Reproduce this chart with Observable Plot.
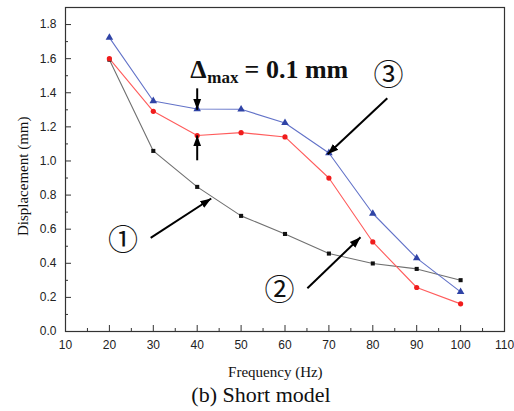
<!DOCTYPE html>
<html><head><meta charset="utf-8">
<script src="https://cdn.jsdelivr.net/npm/d3@7"></script>
<script src="https://cdn.jsdelivr.net/npm/@observablehq/plot@0.6"></script>
<style>
body{margin:0;background:#fff}
#cap{font-family:"Liberation Serif",serif;font-size:22px;line-height:26px;text-align:center;width:514px;padding-left:8px;box-sizing:border-box;margin-top:2px;color:#111}
</style>
</head><body><div id="chart"></div><div id="cap">(b) Short model</div>
<script>
const freq = [20, 30, 40, 50, 60, 70, 80, 90, 100];
const series1 = [1.594, 1.059, 0.848, 0.678, 0.572, 0.457, 0.399, 0.367, 0.301];
const series2 = [1.600, 1.291, 1.149, 1.166, 1.141, 0.900, 0.525, 0.258, 0.162];
const series3 = [1.723, 1.352, 1.305, 1.303, 1.223, 1.047, 0.692, 0.430, 0.232];
const xTicks = [10, 20, 30, 40, 50, 60, 70, 80, 90, 100, 110];
const xMinor = [15, 25, 35, 45, 55, 65, 75, 85, 95, 105];
const yTicks = [0, 0.2, 0.4, 0.6, 0.8, 1.0, 1.2, 1.4, 1.6, 1.8];
const yMinor = [0.1, 0.3, 0.5, 0.7, 0.9, 1.1, 1.3, 1.5, 1.7];
const xLabel = "Frequency (Hz)";
const yLabel = "Displacement (mm)";
// annotation arrows (data coordinates)
const arrowX1 = [29.4, 65.1, 83.3, 40, 40];
const arrowY1 = [0.549, 0.254, 1.368, 1.426, 1.004];
const arrowX2 = [43.2, 77.2, 69.7, 40, 40];
const arrowY2 = [0.780, 0.553, 1.039, 1.300, 1.150];
const circText = ["①", "②", "③"];
const circX = [23.1, 58.75, 83.6];
const circY = [0.532, 0.242, 1.50];

const rows = (ys, name) => freq.map((f, i) => ({f, v: ys[i], s: name}));
const d1 = rows(series1, "1"), d2 = rows(series2, "2"), d3s = rows(series3, "3");
const arrows = arrowX1.map((x, i) => ({x1: x, y1: arrowY1[i], x2: arrowX2[i], y2: arrowY2[i]}));
const circ = circText.map((t, i) => ({t, x: circX[i], y: circY[i]}));

function filledArrow(color) {
  return d3.create("svg:marker")
    .attr("viewBox", "-11 -5.5 11 11")
    .attr("markerWidth", 11).attr("markerHeight", 11)
    .attr("markerUnits", "userSpaceOnUse")
    .attr("orient", "auto")
    .attr("fill", "#000").attr("stroke", "none")
    .call(m => m.append("path").attr("d", "M-11,-4L0,0L-11,4Z"))
    .node();
}

const serif = "Liberation Serif";
const chart = Plot.plot({
  width: 514, height: 380,
  marginTop: 7, marginLeft: 65, marginRight: 10, marginBottom: 49,
  x: {domain: [10, 110]},
  y: {domain: [0, 1.9]},
  style: {fontFamily: "Liberation Sans, Arial, sans-serif", fontSize: "12px", color: "#222", background: "#fff"},
  marks: [
    Plot.axisX(xMinor, {tickSize: -3, tickFormat: () => "", label: null, stroke: "#333"}),
    Plot.axisY(yMinor, {tickSize: -3, tickFormat: () => "", label: null, stroke: "#333"}),
    Plot.axisX(xTicks, {tickSize: -6, tickFormat: d => String(d), label: null, stroke: "#333", fontSize: 12}),
    Plot.axisY(yTicks, {tickSize: -6, tickFormat: d3.format(".1f"), label: null, stroke: "#333", fontSize: 12}),
    Plot.frame({stroke: "#333", strokeWidth: 1.2}),
    Plot.line(d1, {x: "f", y: "v", stroke: "#707070", strokeWidth: 1.1}),
    Plot.line(d2, {x: "f", y: "v", stroke: "#ff5c5c", strokeWidth: 1.1}),
    Plot.line(d3s, {x: "f", y: "v", stroke: "#6272c8", strokeWidth: 1.1}),
    Plot.dot(d1, {x: "f", y: "v", symbol: "square", r: 2.3, fill: "#111"}),
    Plot.dot(d2, {x: "f", y: "v", symbol: "circle", r: 2.6, fill: "#f01c1c"}),
    Plot.dot(d3s, {x: "f", y: "v", symbol: "triangle", r: 2.8, fill: "#2f43a6"}),
    Plot.link(arrows, {x1: "x1", y1: "y1", x2: "x2", y2: "y2", stroke: "#000", strokeWidth: 2, markerEnd: filledArrow}),
    Plot.text(circ, {x: "x", y: "y", text: "t", fontSize: 30, fontFamily: "Noto Sans CJK KR", fill: "#111"}),
    Plot.text(["Δ"], {x: 38.4, y: 1.535, textAnchor: "start", fontSize: 26, fontWeight: "bold", fontFamily: serif, fill: "#111"}),
    Plot.text(["max"], {x: 42.3, y: 1.49, textAnchor: "start", fontSize: 17, fontWeight: "bold", fontFamily: serif, fill: "#111"}),
    Plot.text(["= 0.1 mm"], {x: 50.8, y: 1.535, textAnchor: "start", fontSize: 26, fontWeight: "bold", fontFamily: serif, fill: "#111"}),
    Plot.text([xLabel], {x: 57.8, y: -0.24, fontSize: 15, fontFamily: serif, fill: "#111"}),
    Plot.text([yLabel], {x: 0.3, y: 0.91, rotate: -90, fontSize: 15, fontFamily: serif, fill: "#111"})
  ]
});
document.getElementById("chart").appendChild(chart);
</script>
</body></html>
